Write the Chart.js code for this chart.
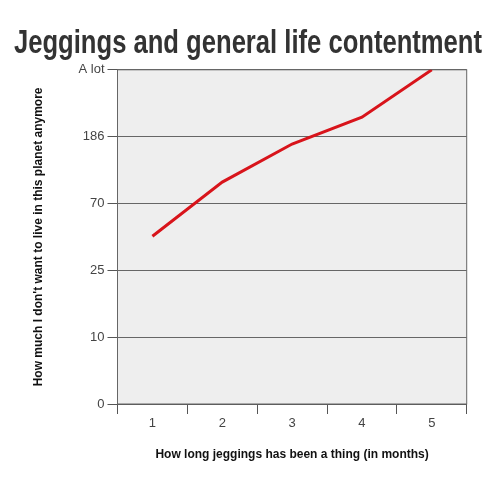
<!DOCTYPE html>
<html>
<head>
<meta charset="utf-8">
<script src="https://cdn.jsdelivr.net/npm/chart.js@4"></script>
<style>
  html, body { margin: 0; padding: 0; background: #fff; }
  #wrap { width: 500px; height: 481px; }
</style>
</head>
<body>
<div id="wrap"><canvas id="chart"></canvas></div>
<script>
// months on the x axis
const months = ['1', '2', '3', '4', '5'];
// y axis labels, evenly spaced from bottom to top
const yLabels = ['0', '10', '25', '70', '186', 'A lot'];
// line values, in y label steps (0 = "0", 5 = "A lot")
const misery = [2.51, 3.32, 3.89, 4.29, 5.0];

// grey plot background plus a frame around it
const plotFrame = {
    id: 'plotFrame',
    beforeDraw(chart) {
        const { ctx, chartArea: a } = chart;
        ctx.save();
        ctx.fillStyle = '#eeeeee';
        ctx.fillRect(a.left, a.top, a.right - a.left, a.bottom - a.top);
        ctx.restore();
    },
    beforeDatasetsDraw(chart) {
        const { ctx, chartArea: a } = chart;
        ctx.save();
        ctx.strokeStyle = '#666';
        ctx.lineWidth = 1;
        ctx.strokeRect(a.left, a.top, a.right - a.left, a.bottom - a.top);
        ctx.restore();
    }
};

const ctx = document.getElementById('chart').getContext('2d');
new Chart(ctx, {
    type: 'line',
    data: {
        labels: months,
        datasets: [{
            data: misery,
            borderColor: '#d8141b',
            borderWidth: 3,
            pointRadius: 0,
            tension: 0,
            fill: false
        }]
    },
    options: {
        responsive: true,
        maintainAspectRatio: false,
        animation: false,
        layout: { padding: { left: 14, right: 18, top: 0, bottom: 0 } },
        plugins: {
            legend: { display: false },
            tooltip: { enabled: false },
            title: {
                display: true,
                text: 'Jeggings and general life contentment',
                color: '#333',
                font: { family: '"Liberation Sans Narrow", "Liberation Sans", Arial', size: 34, weight: 'bold', lineHeight: 1.2 },
                padding: { top: 23, bottom: 6 }
            }
        },
        scales: {
            x: {
                type: 'category',
                offset: true,
                grid: {
                    offset: true,
                    drawOnChartArea: false,
                    drawTicks: true,
                    tickLength: 10,
                    tickColor: '#555'
                },
                border: { display: true, color: '#555' },
                ticks: {
                    color: '#444',
                    padding: 2,
                    font: { family: '"Liberation Sans", Arial', size: 13 }
                },
                title: {
                    display: true,
                    text: 'How long jeggings has been a thing (in months)',
                    color: '#111',
                    font: { family: '"Liberation Sans", Arial', size: 12, weight: 'bold', lineHeight: 1.2 },
                    padding: { top: 16, bottom: 19 }
                },
                afterFit(scale) { scale.height = 77; }
            },
            y: {
                type: 'linear',
                min: 0,
                max: 5,
                ticks: {
                    stepSize: 1,
                    color: '#444',
                    padding: 3,
                    font: { family: '"Liberation Sans", Arial', size: 13 },
                    callback: value => yLabels[value]
                },
                grid: {
                    color: '#666',
                    tickColor: '#555',
                    tickLength: 10
                },
                border: { display: true, color: '#555' },
                title: {
                    display: true,
                    text: "How much I don't want to live in this planet anymore",
                    color: '#111',
                    font: { family: '"Liberation Sans", Arial', size: 12, weight: 'bold', lineHeight: 1.2 },
                    padding: { top: 17, bottom: 0 }
                },
                afterFit(scale) { scale.width = 103.5; }
            },
            yr: {
                type: 'linear',
                position: 'right',
                display: true,
                ticks: { display: false },
                grid: { display: false },
                border: { display: false },
                afterFit(scale) { scale.width = 15.3; }
            }
        }
    },
    plugins: [plotFrame]
});
</script>
</body>
</html>
